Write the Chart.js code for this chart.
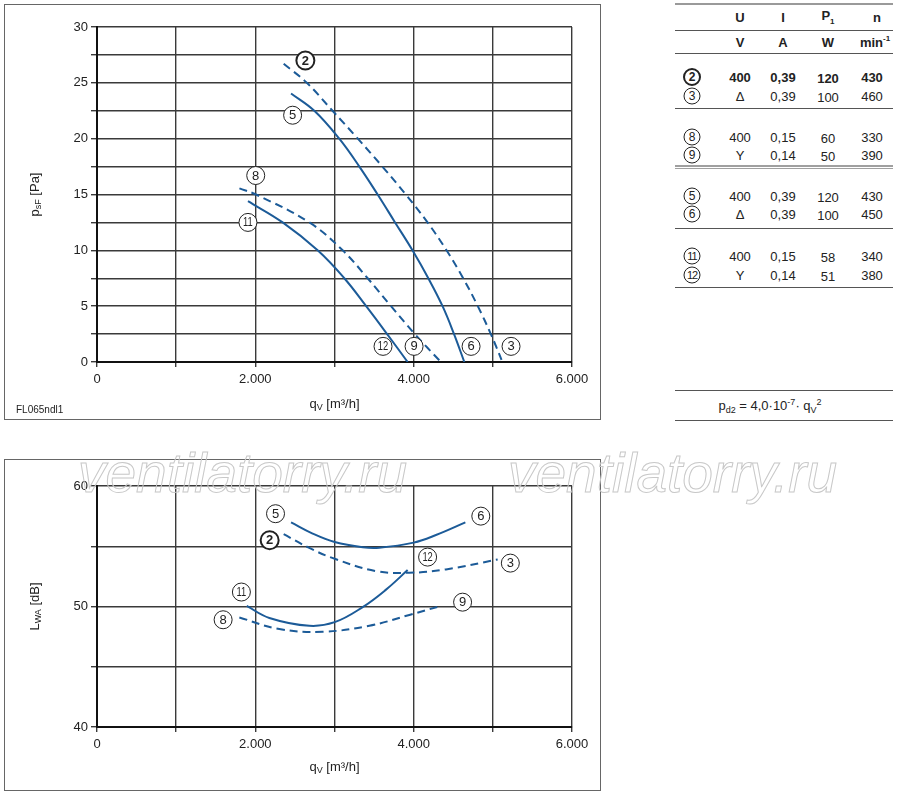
<!DOCTYPE html>
<html>
<head>
<meta charset="utf-8">
<script src="https://cdn.jsdelivr.net/npm/chart.js@4"></script>
<style>
  body { margin: 0; background: #fff; font-family: 'Liberation Sans', Arial, sans-serif; color: #222; }
  .box { position: absolute; border: 1px solid #666; }
  .box canvas { position: absolute; left: 0; top: 0; }
  .cell { position: absolute; font-size: 13px; transform: translate(-50%, -50%); white-space: nowrap; }
  .b { font-weight: bold; }
  .circ { position: absolute; width: 15px; height: 15px; border: 1px solid #222; border-radius: 50%;
          font-size: 12px; line-height: 15px; text-align: center; transform: translate(-50%, -50%); }
  .circ.b { border-width: 2px; width: 14px; height: 14px; line-height: 14px; }
  .circ.two { font-size: 11px; letter-spacing: -1px; }
  .rule { position: absolute; left: 675px; width: 218px; border-top: 1px solid #555; }
  .wm { position: absolute; font-size: 55px; font-style: italic; color: transparent;
        -webkit-text-stroke: 1px #c8c8c8; line-height: 1; z-index: 5; }
</style>
</head>
<body>

<div class="box" style="left:4px;top:4px;width:595px;height:414px">
  <canvas id="pressureChart" width="595" height="414"></canvas>
  <div style="position:absolute;left:11px;top:399px;font-size:10px">FL065ndl1</div>
</div>

<div class="box" style="left:4px;top:459px;width:595px;height:330px">
  <canvas id="soundChart" width="595" height="330"></canvas>
</div>

<div class="wm" style="left:78px;top:446px">ventilatorry.ru</div>
<div class="wm" style="left:508px;top:446px">ventilatorry.ru</div>

<div id="table"></div>

<script>
Chart.defaults.font.family = "'Liberation Sans', Arial, sans-serif"
Chart.defaults.color = '#222'

// flow axis
const xTicks = [0, 1000, 2000, 3000, 4000, 5000, 6000]
const xTickText = ['0', '', '2.000', '', '4.000', '', '6.000']

// pressure curves  q [m³/h] / p [Pa]
const p2Q = [2358, 2650, 2975, 3295, 3605, 3900, 4175, 4415, 4625, 4810, 4975, 5110]
const p2P = [26.7, 25, 22.5, 20, 17.5, 15, 12.5, 10, 7.5, 5, 2.5, 0.2]
const p5Q = [2451, 2745, 3060, 3314, 3545, 3765, 3985, 4185, 4365, 4510, 4640]
const p5P = [24.05, 22.5, 20, 17.5, 15, 12.5, 10, 7.5, 5, 2.5, 0]
const p8Q = [1799, 2008, 2682, 3103, 3419, 3714, 4015, 4330]
const p8P = [15.55, 15, 12.5, 10, 7.5, 5, 2.5, 0.1]
const p11Q = [1907, 2345, 2787, 3124, 3400, 3665, 3924]
const p11P = [14.4, 12.5, 10, 7.5, 5, 2.5, 0]

// sound curves  q [m³/h] / LWA [dB]
const s5Q = [2451, 2724, 3002, 3356, 3566, 4000, 4282, 4653]
const s5L = [56.98, 56.05, 55.35, 54.92, 54.88, 55.3, 55.93, 56.98]
const s2Q = [2358, 2682, 3002, 3524, 3945, 4408, 5061]
const s2L = [56.0, 54.86, 53.96, 52.94, 52.8, 53.08, 53.9]
const s11Q = [1891, 2177, 2682, 3002, 3356, 3651, 3924]
const s11L = [50.05, 49.05, 48.4, 48.7, 49.95, 51.4, 53.02]
const s8Q = [1798, 2303, 2851, 3440, 3945, 4345]
const s8L = [49.09, 48.13, 47.91, 48.4, 49.3, 50.05]

// curve markers: number, q, value
const pMarkNo = ['2', '5', '6', '3', '8', '9', '11', '12']
const pMarkQ = [2632, 2471, 4725, 5230, 2005, 4005, 1907, 3613]
const pMarkP = [27.0, 22.1, 1.4, 1.4, 16.7, 1.4, 12.5, 1.4]
const sMarkNo = ['5', '6', '2', '3', '11', '12', '8', '9']
const sMarkQ = [2255, 4848, 2181, 5221, 1824, 4176, 1593, 4618]
const sMarkL = [57.7, 57.5, 55.5, 53.6, 51.2, 54.1, 48.9, 50.36]

// motor table
const tableIds = ['2', '3', '8', '9', '5', '6', '11', '12']
const tableU = ['400', 'Δ', '400', 'Y', '400', 'Δ', '400', 'Y']
const tableI = ['0,39', '0,39', '0,15', '0,14', '0,39', '0,39', '0,15', '0,14']
const tableP = ['120', '100', '60', '50', '120', '100', '58', '51']
const tableN = ['430', '460', '330', '390', '430', '450', '340', '380']


const blue = '#1c5b98'

const toPoints = (qs, vs) => qs.map((q, i) => ({ x: q, y: vs[i] }))

const curve = (qs, vs, dashed) => ({
    data: toPoints(qs, vs),
    borderColor: blue,
    borderWidth: 2,
    borderDash: dashed ? [8, 5] : [],
    pointRadius: 0,
    tension: 0.4,
    fill: false
})

const markerPlugin = (nos, qs, vs) => ({
    id: 'markers',
    afterDatasetsDraw(chart) {
        const { ctx, scales: { x, y } } = chart
        ctx.save()
        nos.forEach((no, i) => {
            const px = x.getPixelForValue(qs[i])
            const py = y.getPixelForValue(vs[i])
            const bold = no === '2'
            ctx.beginPath()
            ctx.arc(px, py, 9, 0, Math.PI * 2)
            ctx.fillStyle = '#fff'
            ctx.fill()
            ctx.lineWidth = bold ? 2 : 1
            ctx.strokeStyle = '#222'
            ctx.stroke()
            ctx.fillStyle = '#222'
            ctx.textAlign = 'center'
            ctx.textBaseline = 'middle'
            ctx.font = (bold ? 'bold ' : '') + (no.length > 1 ? '12px' : '13px') + " 'Liberation Sans', Arial"
            if (no.length > 1) {
                ctx.save()
                ctx.translate(px, py + 0.5)
                ctx.scale(0.78, 1)
                ctx.fillText(no, 0, 0)
                ctx.restore()
            } else {
                ctx.fillText(no, px, py + 0.5)
            }
        })
        ctx.restore()
    }
})

// text with a subscript part
const drawSub = (ctx, parts, x, y) => {
    const widths = parts.map(([t, sub]) => {
        ctx.font = (sub ? '9px' : '13px') + " 'Liberation Sans', Arial"
        return ctx.measureText(t).width
    })
    let cx = x - widths.reduce((a, b) => a + b, 0) / 2
    parts.forEach(([t, sub], i) => {
        ctx.font = (sub ? '9px' : '13px') + " 'Liberation Sans', Arial"
        ctx.fillText(t, cx, y + (sub ? 4 : 0))
        cx += widths[i]
    })
}

const titlePlugin = (xParts, yParts, xTitleY, yTitleX) => ({
    id: 'titles',
    afterDraw(chart) {
        const { ctx, chartArea } = chart
        ctx.save()
        ctx.fillStyle = '#222'
        ctx.textAlign = 'left'
        ctx.textBaseline = 'middle'
        drawSub(ctx, xParts, (chartArea.left + chartArea.right) / 2, xTitleY)
        ctx.translate(yTitleX, (chartArea.top + chartArea.bottom) / 2)
        ctx.rotate(-Math.PI / 2)
        drawSub(ctx, yParts, 0, 0)
        ctx.restore()
    }
})

const xScale = {
    type: 'linear',
    min: 0,
    max: 6000,
    afterBuildTicks: s => { s.ticks = xTicks.map(v => ({ value: v })) },
    ticks: { callback: v => xTickText[xTicks.indexOf(v)], font: { size: 13 }, padding: 5, maxRotation: 0, autoSkip: false },
    grid: { color: '#3a3a3a', lineWidth: 1.4, tickLength: 5 },
    border: { color: '#111', width: 2 },
    afterFit: s => { s.height = 57 }
}

const yScale = (min, max, step, every) => ({
    min, max,
    ticks: { stepSize: step, callback: v => v % every === 0 ? String(v) : '', font: { size: 13 }, padding: 3, autoSkip: false },
    grid: { color: '#3a3a3a', lineWidth: 1.4, tickLength: 6 },
    border: { color: '#111', width: 2 },
    afterFit: s => { s.width = 92 }
})

const renderPressureChart = () => {

    const data = {
        datasets: [
            curve(p2Q, p2P, true),
            curve(p5Q, p5P, false),
            curve(p8Q, p8P, true),
            curve(p11Q, p11P, false)
        ]
    }

    const options = {
        responsive: false,
        animation: false,
        layout: { padding: { top: 22, right: 28, left: 0, bottom: 0 } },
        plugins: { legend: { display: false }, tooltip: { enabled: false } },
        scales: { x: xScale, y: yScale(0, 30, 2.5, 5) }
    }

    new Chart('pressureChart', {
        type: 'line', data, options,
        plugins: [
            markerPlugin(pMarkNo, pMarkQ, pMarkP),
            titlePlugin([['q'], ['V', 1], [' [m³/h]']], [['p'], ['sF', 1], [' [Pa]']], 399, 30)
        ]
    })
}

const renderSoundChart = () => {

    const data = {
        datasets: [
            curve(s5Q, s5L, false),
            curve(s2Q, s2L, true),
            curve(s11Q, s11L, false),
            curve(s8Q, s8L, true)
        ]
    }

    const options = {
        responsive: false,
        animation: false,
        layout: { padding: { top: 26, right: 28, left: 0, bottom: 0 } },
        plugins: { legend: { display: false }, tooltip: { enabled: false } },
        scales: { x: { ...xScale, afterFit: s => { s.height = 63 } }, y: yScale(40, 60, 5, 10) }
    }

    new Chart('soundChart', {
        type: 'line', data, options,
        plugins: [
            markerPlugin(sMarkNo, sMarkQ, sMarkL),
            titlePlugin([['q'], ['V', 1], [' [m³/h]']], [['L'], ['WA', 1], [' [dB]']], 307, 30)
        ]
    })
}

const renderTable = () => {

    const table = document.getElementById('table')
    const cols = [740, 783, 828, 872]
    const rowY = [77, 96, 137, 155, 196, 214, 256, 275]
    const rules = [30, 53, 108, 228, 287, 390, 420]

    const add = (html, cls, x, y) => {
        const el = document.createElement('div')
        el.className = cls
        el.innerHTML = html
        el.style.left = x + 'px'
        el.style.top = y + 'px'
        table.appendChild(el)
    }

    const rule = (y, style) => {
        const r = document.createElement('div')
        r.className = 'rule'
        r.style.top = y + 'px'
        if (style) r.style.borderTop = style
        table.appendChild(r)
    }

    rule(3, '2px solid #9a9a9a')
    rules.forEach(y => rule(y))
    rule(165, '2px solid #a0a0a0')
    rule(168, '1px solid #a0a0a0')

    ;['U', 'I', 'P<sub style="font-size:8px">1</sub>', 'n'].forEach((t, i) => add(t, 'cell b', cols[i] + (i === 3 ? 5 : 0), 17))
    ;['V', 'A', 'W', 'min<sup style="font-size:8px">-1</sup>'].forEach((t, i) => add(t, 'cell b', cols[i] + (i === 3 ? 3 : 0), 42))

    tableIds.forEach((id, r) => {
        const bold = r === 0 ? ' b' : ''
        add(id, 'circ' + bold + (id.length > 1 ? ' two' : ''), 692, rowY[r])
        ;[tableU[r], tableI[r], tableP[r], tableN[r]].forEach((v, i) => add(v, 'cell' + bold, cols[i], rowY[r] + (i === 2 ? 1 : 0)))
    })

    add('p<sub style="font-size:9px">d2</sub> = 4,0·10<sup style="font-size:9px">-7</sup>· q<sub style="font-size:9px">V</sub><sup style="font-size:9px">2</sup>', 'cell', 770, 406)
}

renderPressureChart()
renderSoundChart()
renderTable()
</script>
</body>
</html>
